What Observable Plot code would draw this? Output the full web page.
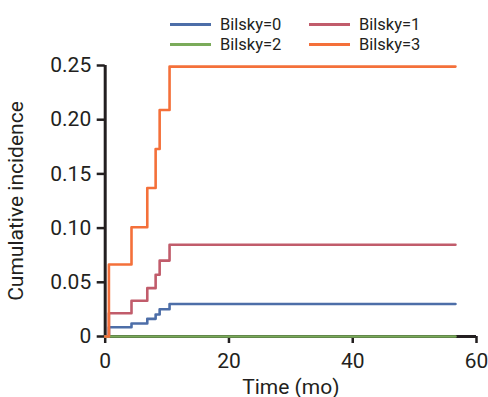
<!DOCTYPE html>
<html>
<head>
<meta charset="utf-8">
<script src="https://cdn.jsdelivr.net/npm/d3@7"></script>
<script src="https://cdn.jsdelivr.net/npm/@observablehq/plot@0.6"></script>
<style>
  html, body { margin: 0; padding: 0; background: #fff; }
  body { width: 488px; height: 397px; overflow: hidden; font-family: Roboto, "Liberation Sans", sans-serif; color: #231f20; }
  #legend { position: relative; width: 488px; height: 52px; }
  .item { position: absolute; display: flex; align-items: center; height: 20px; font-size: 16.5px; }
  .sw { width: 41px; height: 3px; margin-right: 9px; }
</style>
</head>
<body>
<div id="legend"></div>
<div id="chart"></div>
<script>
// Data
const series = ["Bilsky=0", "Bilsky=1", "Bilsky=2", "Bilsky=3"];
const colors = ["#4d6ea8", "#c15c6b", "#7aab5a", "#f4703a"];
const times = [0, 0.6, 4.25, 6.8, 8.15, 8.8, 10.4, 56.6];
const bilsky0 = [0, 0.0086, 0.012, 0.0163, 0.0203, 0.0252, 0.030, 0.030];
const bilsky1 = [0, 0.0215, 0.033, 0.0446, 0.057, 0.070, 0.0846, 0.0846];
const bilsky2 = [0, 0, 0, 0, 0, 0, 0, 0];
const bilsky3 = [0, 0.0664, 0.1008, 0.137, 0.173, 0.209, 0.249, 0.249];
const xTicks = [0, 20, 40, 60];
const yTicks = [0, 0.05, 0.10, 0.15, 0.20, 0.25];

const values = [bilsky0, bilsky1, bilsky2, bilsky3];
const data = [];
series.forEach((s, i) => times.forEach((t, j) => data.push({series: s, time: t, value: values[i][j]})));

// Legend (HTML, above the SVG)
const legend = document.getElementById("legend");
const legendPos = [[170, 14], [309, 14], [170, 34.5], [309, 34.5]];
series.forEach((s, i) => {
  const it = document.createElement("div");
  it.className = "item";
  it.style.left = legendPos[i][0] + "px";
  it.style.top = legendPos[i][1] + "px";
  it.innerHTML = `<span class="sw" style="background:${colors[i]}"></span><span>${s}</span>`;
  legend.appendChild(it);
});

const ink = "#231f20";
const yFmt = d => d === 0 ? "0" : d3.format(".2f")(d);
const chart = Plot.plot({
  width: 488,
  height: 345,
  marginLeft: 104.7,
  marginRight: 12,
  marginTop: 13,
  marginBottom: 61,
  style: {fontFamily: "Roboto, 'Liberation Sans', sans-serif", fontSize: "20.5px", color: ink, background: "#fff"},
  x: {domain: [0, 60], ticks: xTicks, tickFormat: d3.format("d"), label: null},
  y: {domain: [0, 0.25], ticks: yTicks, tickFormat: yFmt, label: null},
  color: {domain: series, range: colors},
  marks: [
    Plot.axisX({ticks: xTicks, tickFormat: d3.format("d"), tickSize: 7, tickPadding: 10, strokeWidth: 2.5, stroke: ink, fill: ink,
      label: "Time (mo)", labelArrow: "none", labelAnchor: "center", labelOffset: 57, fontSize: 21}),
    Plot.axisY({ticks: yTicks, tickFormat: yFmt, tickSize: 8, tickPadding: 6, strokeWidth: 2.5, stroke: ink, fill: ink,
      label: "Cumulative incidence", labelArrow: "none", labelAnchor: "center", labelOffset: 97, fontSize: 21}),
    Plot.ruleX([0], {y1: 0, y2: 0.25, stroke: ink, strokeWidth: 3}),
    Plot.ruleY([0], {x1: 0, x2: 60, stroke: ink, strokeWidth: 3}),
    Plot.line(data, {x: "time", y: "value", z: "series", stroke: "series", curve: "step-after", strokeWidth: 2.6})
  ]
});
document.getElementById("chart").appendChild(chart);
</script>
</body>
</html>
